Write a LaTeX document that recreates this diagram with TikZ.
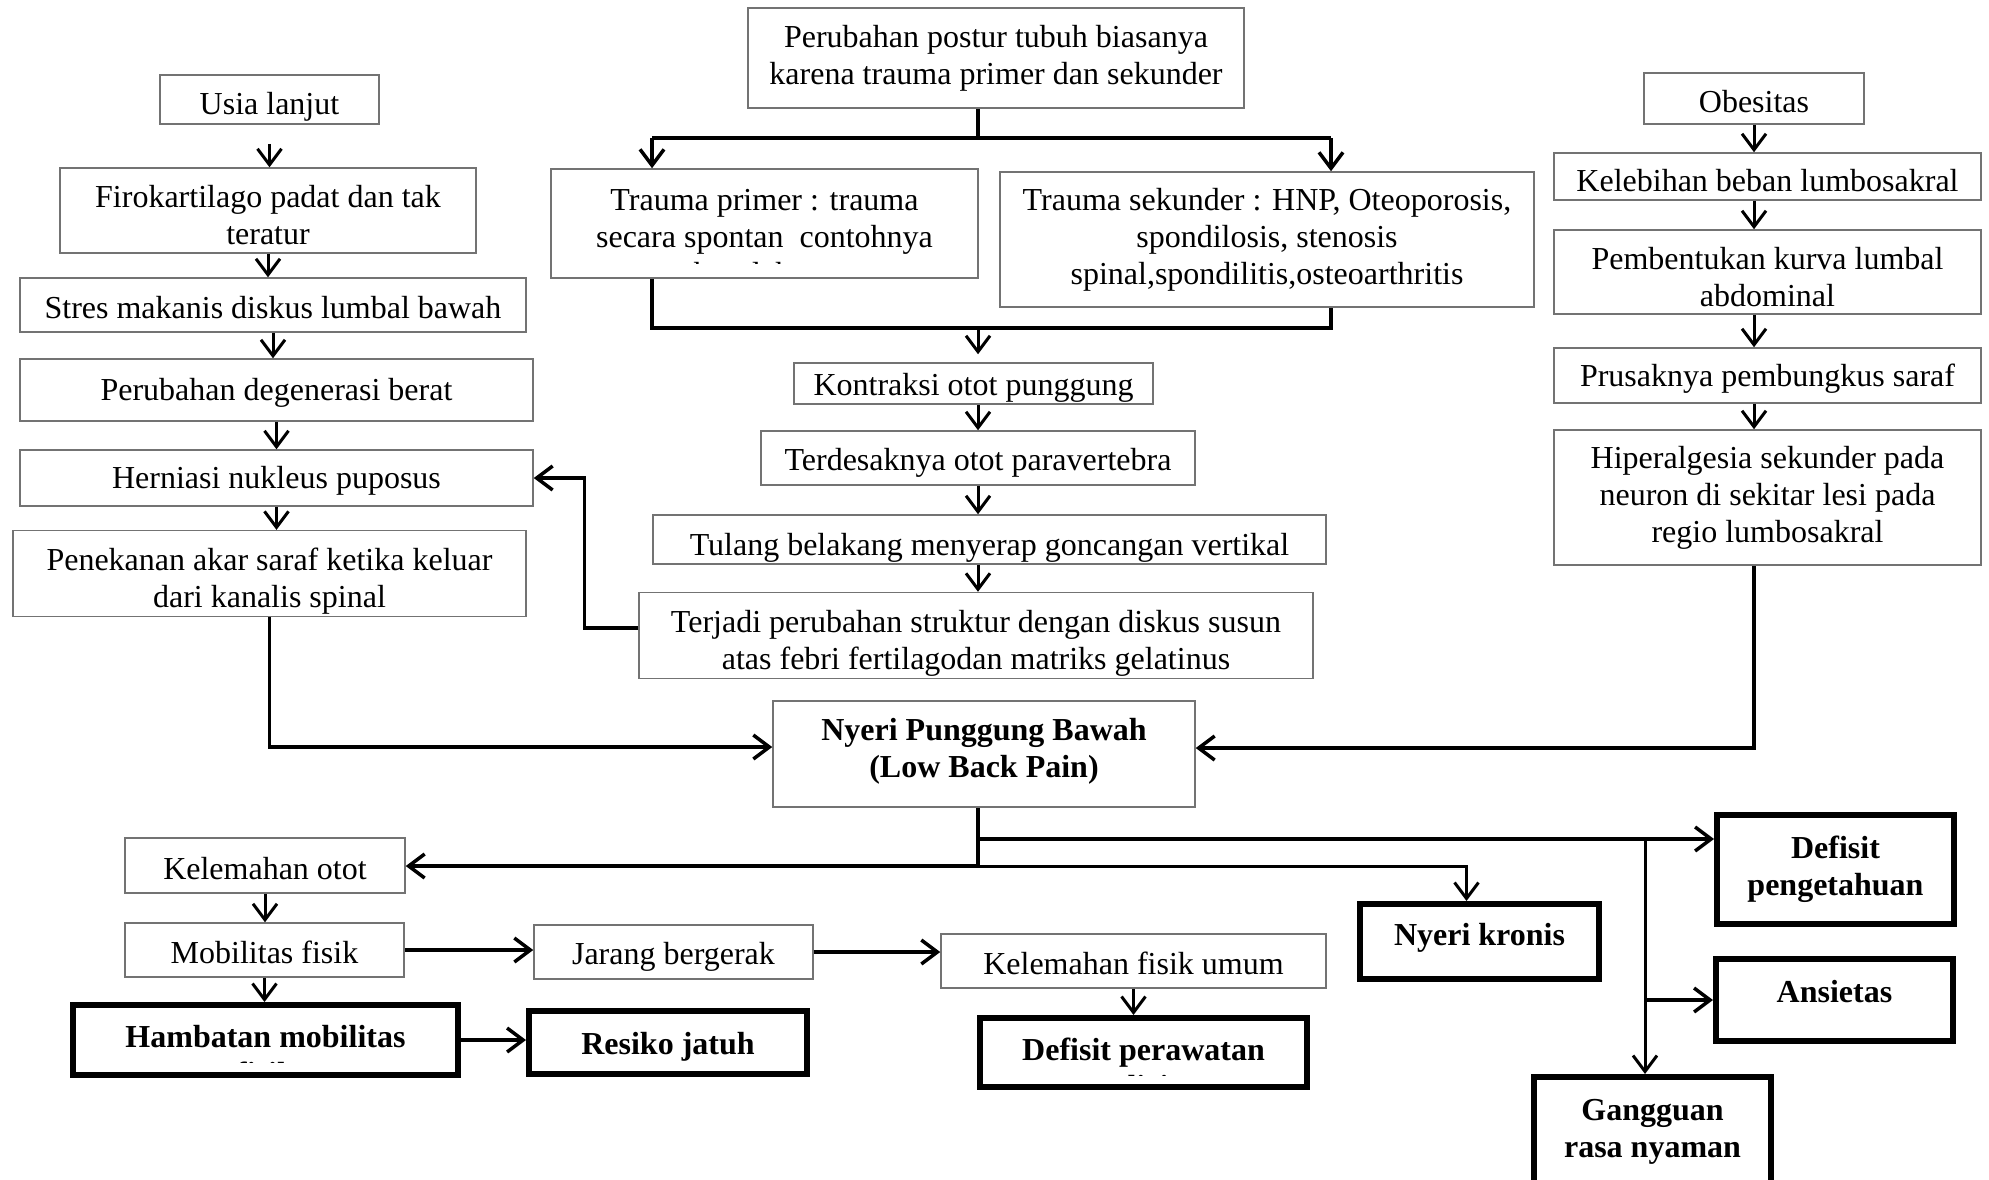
\documentclass[tikz,border=0pt]{standalone}
\usepackage{fontspec}
\setmainfont{Liberation Serif}
\usepackage{tikz}
\usetikzlibrary{arrows.meta, positioning, calc}
\newcommand{\txtsize}{\fontsize{32}{37}\selectfont}

\begin{document}
\begin{tikzpicture}[
    x=1pt, y=-1pt,
    >={Straight Barb[length=16pt,width=24pt]},
    low/.style={execute at begin node={\rule{0pt}{#1}}},
    high/.style={execute at end node={\rule[-#1]{0pt}{#1}}},
    box/.style={rectangle, draw=black!55, line width=1.5pt, align=center, inner sep=2pt, font=\txtsize, low=28pt},
    bbox/.style={rectangle, draw=black, line width=6pt, align=center, inner sep=2pt, font=\txtsize\bfseries},
    link/.style={line width=3.5pt},
    arrow/.style={->, line width=3.5pt},
    sarrow/.style={->, line width=3pt},
    cut/.style n args={4}{path picture={
        \clip (path picture bounding box.north west) rectangle ([yshift=#1]path picture bounding box.south east);
        \node[anchor=north, align=center, inner sep=0pt, draw=none, minimum width=0pt, minimum height=0pt, font=#3] at ([yshift=-#2]path picture bounding box.north) {#4};
    }}
]
\useasboundingbox (0,0) rectangle (1989,1179);

% kolom kiri
\node[box, low=36pt, minimum width=219pt, minimum height=49pt] (usia) at (269.5,99.5) {Usia lanjut};
\node[box, low=68pt, minimum width=416pt, minimum height=85pt] (firo) at (268,210.5) {Firokartilago padat dan tak\\teratur};
\node[box, minimum width=506pt, minimum height=54pt] (stres) at (273,305) {Stres makanis diskus lumbal bawah};
\node[box, minimum width=513pt, minimum height=62pt] (degen) at (276.5,390) {Perubahan degenerasi berat};
\node[box, minimum width=513pt, minimum height=56pt] (hern) at (276.5,478) {Herniasi nukleus puposus};
\node[box, low=75pt, minimum width=513pt, minimum height=83pt] (tekan) at (269.5,573.5) {Penekanan akar saraf ketika keluar\\dari kanalis spinal};

% kolom tengah
\node[box, minimum width=496pt, minimum height=100pt] (postur) at (996,58) {Perubahan postur tubuh biasanya\\karena trauma primer dan sekunder};
\node[box, minimum width=427pt, minimum height=109pt,
      cut={15pt}{20pt}{\txtsize}{Trauma primer : trauma\\secara spontan~ contohnya\\kecelakaan}] (primer) at (764.5,223.5) {};
\node[box, minimum width=534pt, minimum height=135pt] (sekunder) at (1267,239.5) {Trauma sekunder : HNP, Oteoporosis,\\spondilosis, stenosis\\spinal,spondilitis,osteoarthritis};
\node[box, low=30pt, minimum width=359pt, minimum height=41pt] (kontr) at (973.5,383.5) {Kontraksi otot punggung};
\node[box, low=32pt, minimum width=434pt, minimum height=54pt] (desak) at (978,458) {Terdesaknya otot paravertebra};
\node[box, low=38pt, minimum width=673pt, minimum height=49pt] (tulang) at (989.5,539.5) {Tulang belakang menyerap goncangan vertikal};
\node[box, low=75pt, minimum width=674pt, minimum height=83pt] (terjadi) at (976,635.5) {Terjadi perubahan struktur dengan diskus susun\\atas febri fertilagodan matriks gelatinus};
\node[box, font=\txtsize\bfseries, high=12pt, minimum width=422pt, minimum height=106pt] (npb) at (984,754) {Nyeri Punggung Bawah\\(Low Back Pain)};

% kolom kanan
\node[box, minimum width=220pt, minimum height=51pt] (obes) at (1754,98.5) {Obesitas};
\node[box, low=31pt, minimum width=427pt, minimum height=47pt] (lebih) at (1767.5,176.5) {Kelebihan beban lumbosakral};
\node[box, low=69pt, minimum width=427pt, minimum height=84pt] (kurva) at (1767.5,272) {Pembentukan kurva lumbal\\abdominal};
\node[box, minimum width=427pt, minimum height=55pt] (rusak) at (1767.5,375.5) {Prusaknya pembungkus saraf};
\node[box, minimum width=427pt, minimum height=135pt] (hiper) at (1767.5,497.5) {Hiperalgesia sekunder pada\\neuron di sekitar lesi pada\\regio lumbosakral};

% bagian bawah
\node[box, minimum width=280pt, minimum height=55pt] (kelotot) at (265,865.5) {Kelemahan otot};
\node[box, minimum width=279pt, minimum height=54pt] (mobil) at (264.5,950) {Mobilitas fisik};
\node[box, low=31pt, minimum width=279pt, minimum height=54pt] (jarang) at (673.5,952) {Jarang bergerak};
\node[box, minimum width=385pt, minimum height=54pt] (kelfis) at (1133.5,961) {Kelemahan fisik umum};
\node[bbox, minimum width=385pt, minimum height=70pt,
      cut={13pt}{17pt}{\txtsize\bfseries}{Hambatan mobilitas\\fisik}] (hambat) at (265.5,1040) {};
\node[bbox, low=30pt, minimum width=278pt, minimum height=63pt] (resiko) at (668,1042.5) {Resiko jatuh};
\node[bbox, minimum width=327pt, minimum height=69pt,
      cut={12pt}{17pt}{\txtsize\bfseries}{Defisit perawatan\\diri}] (rawat) at (1143.5,1052.5) {};
\node[bbox, high=15pt, minimum width=239pt, minimum height=75pt] (kronis) at (1479.5,941.5) {Nyeri kronis};
\node[bbox, minimum width=237pt, minimum height=109pt] (tahu) at (1835.5,869.5) {Defisit\\pengetahuan};
\node[bbox, high=18pt, minimum width=237pt, minimum height=82pt] (ansi) at (1834.5,1000) {Ansietas};
\node[bbox, high=27pt, minimum width=237pt, minimum height=130pt] (nyaman) at (1652.5,1142) {Gangguan\\rasa nyaman};

% titik cabang
\coordinate (sL) at (652,138);
\coordinate (sR) at (1331,138);
\coordinate (mL) at (652,328);
\coordinate (mR) at (1331,328);
\coordinate (up) at (978,839);
\coordinate (lo) at (978,866);
\coordinate (cab) at (1645,839);

% panah kolom kiri
\draw[sarrow, shorten <=19pt] (usia.south) -- (usia.south |- firo.north);
\draw[sarrow] (firo.south) -- (firo.south |- stres.north);
\draw[sarrow] (stres.south) -- (stres.south |- degen.north);
\draw[sarrow] (degen.south) -- (degen.south |- hern.north);
\draw[sarrow] (hern.south) -- (hern.south |- tekan.north);
\draw[arrow] (tekan.south) |- ([yshift=7pt]npb.west);

% panah kolom tengah
\draw[link] (postur.south -| desak) -- (desak |- sL);
\draw[link] (sL) -- (sR);
\draw[arrow] (sL) -- (sL |- primer.north);
\draw[arrow] (sR) -- (sR |- sekunder.north);
\draw[link] (mL |- primer.south) -- (mL) -- (mR) -- (mR |- sekunder.south);
\draw[sarrow, shorten >=8pt] (desak |- mL) -- (desak |- kontr.north);
\draw[sarrow] (desak |- kontr.south) -- (desak.north);
\draw[sarrow] (desak.south) -- (desak.south |- tulang.north);
\draw[sarrow] (desak |- tulang.south) -- (desak |- terjadi.north);
\draw[arrow] ([yshift=7.5pt]terjadi.west) -- ++(-54,0) |- (hern.east);

% panah kolom kanan
\draw[sarrow] (obes.south) -- (obes.south |- lebih.north);
\draw[sarrow] (obes.south |- lebih.south) -- (obes.south |- kurva.north);
\draw[sarrow] (obes.south |- kurva.south) -- (obes.south |- rusak.north);
\draw[sarrow] (obes.south |- rusak.south) -- (obes.south |- hiper.north);
\draw[arrow] (obes.south |- hiper.south) |- ([yshift=6pt]npb.east);

% panah bagian bawah
\draw[link] (npb.south -| lo) -- (lo);
\draw[arrow] (up) -- (up -| tahu.west);
\draw[arrow] (lo) -- (lo -| kelotot.east);
\draw[sarrow] (lo) -| ([xshift=-13pt]kronis.north);
\draw[sarrow] (cab) -- (cab |- nyaman.north);
\draw[arrow] (cab |- ansi.west) -- (ansi.west);
\draw[sarrow] (kelotot.south) -- (kelotot.south |- mobil.north);
\draw[sarrow] (mobil.south) -- (mobil.south |- hambat.north);
\draw[arrow] (mobil.east) -- (mobil.east -| jarang.west);
\draw[arrow] (jarang.east) -- (jarang.east -| kelfis.west);
\draw[arrow] (hambat.east) -- (hambat.east -| resiko.west);
\draw[sarrow] (kelfis.south) -- (kelfis.south |- rawat.north);

\end{tikzpicture}
\end{document}
